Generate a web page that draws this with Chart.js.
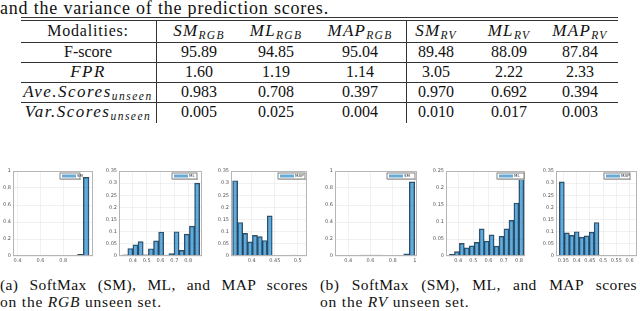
<!DOCTYPE html>
<html>
<head>
<meta charset="utf-8">
<title>Scores table and histograms</title>
<script src="https://cdn.jsdelivr.net/npm/chart.js"></script>
<style>
  body { margin: 0; width: 640px; height: 311px; overflow: hidden; background: #fff; position: relative;
         font-family: "Liberation Serif", "Times New Roman", serif; color: #111; }
  .intro { position: absolute; left: 0; top: -2px; font-size: 18px; letter-spacing: 0.8px; white-space: nowrap; }
  .cell { position: absolute; width: 180px; margin-left: -90px; text-align: center; font-size: 16px;
          line-height: 20px; white-space: nowrap; }
  .cell.head { letter-spacing: 0.8px; }
  .cell.head i { font-size: 17px; letter-spacing: 1.3px; }
  .cell.name i { font-size: 17px; letter-spacing: 1.5px; }
  .hl { position: absolute; height: 1px; background: #333; left: 21px; width: 597px; }
  .vl { position: absolute; width: 1px; background: #333; top: 20px; height: 103px; }
  sub { font-size: 11.5px; vertical-align: -3px; line-height: 0; }
  canvas { position: absolute; }
  .cap { position: absolute; font-size: 15.5px; line-height: 17px; letter-spacing: 0.8px; white-space: nowrap; }
  .cap.first { letter-spacing: 0.4px; text-align: justify; text-align-last: justify; white-space: normal; }
</style>
</head>
<body>
<div class="intro">and the variance of the prediction scores.</div>

<div class="cap first" style="left:0; top:276px; width:308px">(a) SoftMax (SM), ML, and MAP scores</div>
<div class="cap" style="left:0; top:293px">on the <i>RGB</i> unseen set.</div>
<div class="cap first" style="left:320px; top:276px; width:317px">(b) SoftMax (SM), ML, and MAP scores</div>
<div class="cap" style="left:320px; top:293px">on the <i>RV</i> unseen set.</div>

<script>
  // table
  const methods = ['SM', 'ML', 'MAP', 'SM', 'ML', 'MAP'];
  const modality = ['RGB', 'RGB', 'RGB', 'RV', 'RV', 'RV'];
  const rowNames = ['F-score', '<i>FPR</i>', '<i>Ave.Scores<sub>unseen</sub></i>', '<i>Var.Scores<sub>unseen</sub></i>'];
  const fScore = [95.89, 94.85, 95.04, 89.48, 88.09, 87.84];
  const fpr = [1.60, 1.19, 1.14, 3.05, 2.22, 2.33];
  const aveScores = [0.983, 0.708, 0.397, 0.970, 0.692, 0.394];
  const varScores = [0.005, 0.025, 0.004, 0.010, 0.017, 0.003];

  // histograms: bin centres and probabilities
  const smRgbBins = [0.40, 0.45, 0.50, 0.55, 0.60, 0.65, 0.70, 0.75, 0.80, 0.85, 0.90, 0.95, 1.00];
  const smRgbProb = [0.005, 0.002, 0, 0, 0, 0, 0, 0, 0.008, 0.004, 0.006, 0.02, 0.925];
  const mlRgbBins = [0.345, 0.382, 0.419, 0.456, 0.494, 0.531, 0.568, 0.605, 0.642, 0.679, 0.716, 0.753, 0.790, 0.828, 0.865];
  const mlRgbProb = [0.005, 0.031, 0.046, 0.059, 0.005, 0.030, 0.062, 0.099, 0.004, 0.010, 0.100, 0.023, 0.090, 0.123, 0.300];
  const mapRgbBins = [0.364, 0.375, 0.386, 0.396, 0.407, 0.418, 0.428, 0.439, 0.450, 0.461, 0.471, 0.482, 0.493];
  const mapRgbProb = [0.310, 0.138, 0.093, 0.058, 0.085, 0.080, 0.064, 0.165, 0, 0, 0.003, 0, 0.004];
  const smRvBins = [0.325, 0.375, 0.425, 0.475, 0.525, 0.575, 0.625, 0.675, 0.725, 0.775, 0.825, 0.875, 0.925, 0.975];
  const smRvProb = [0.002, 0.003, 0.003, 0.008, 0.010, 0.010, 0.010, 0.010, 0.005, 0.005, 0.004, 0.006, 0.025, 0.872];
  const mlRvBins = [0.359, 0.392, 0.424, 0.457, 0.490, 0.522, 0.555, 0.588, 0.620, 0.653, 0.685, 0.718, 0.751, 0.783, 0.816];
  const mlRvProb = [0.005, 0.013, 0.037, 0.024, 0.030, 0.040, 0.080, 0.044, 0.062, 0.029, 0.058, 0.080, 0.105, 0.156, 0.232];
  const mapRvBins = [0.344, 0.363, 0.382, 0.400, 0.419, 0.438, 0.457, 0.475, 0.494, 0.513, 0.532, 0.550, 0.569];
  const mapRvProb = [0.305, 0.095, 0.085, 0.100, 0.078, 0.083, 0.098, 0.138, 0, 0.002, 0.001, 0.003, 0.002];

  // tick labels
  const smRgbX = [0.4, 0.6, 0.8];
  const mlRgbX = [0.4, 0.5, 0.6, 0.7, 0.8];
  const mapRgbX = [0.4, 0.45, 0.5];
  const smRvX = [0.4, 0.6, 0.8, 1];
  const mlRvX = [0.4, 0.5, 0.6, 0.7, 0.8];
  const mapRvX = [0.35, 0.4, 0.45, 0.5, 0.55, 0.6];
  const unitY = [0, 0.2, 0.4, 0.6, 0.8, 1];
  const smallY = [0, 0.05, 0.1, 0.15, 0.2, 0.25, 0.3, 0.35];
  const mlRvY = [0, 0.05, 0.1, 0.15, 0.2, 0.25];

  function add(el) { document.body.appendChild(el); return el; }

  function cell(html, x, y, cls) {
    const d = add(document.createElement('div'));
    d.className = 'cell' + (cls ? ' ' + cls : '');
    d.style.left = x + 'px';
    d.style.top = (y - 10) + 'px';
    d.innerHTML = html;
  }

  const colX = [88, 199, 276, 360, 436, 509, 580];
  const rowY = [31, 52, 72, 92, 112];
  cell('Modalities:', colX[0], rowY[0], 'head');
  methods.forEach((m, i) => cell('<i>' + m + '<sub>' + modality[i] + '</sub></i>', colX[i + 1], rowY[0], 'head'));
  [fScore, fpr, aveScores, varScores].forEach((row, r) => {
    cell(rowNames[r], colX[0], rowY[r + 1], 'name');
    row.forEach((v, i) => cell(v.toFixed(r < 2 ? 2 : 3), colX[i + 1], rowY[r + 1]));
  });
  [17, 20, 42, 62, 82, 102].forEach(y => {
    const d = add(document.createElement('div'));
    d.className = 'hl';
    d.style.top = y + 'px';
  });
  [156, 406].forEach(x => {
    const d = add(document.createElement('div'));
    d.className = 'vl';
    d.style.left = x + 'px';
  });

  // matlab-like legend box and axes frame
  const barFill = 'rgba(0,114,189,0.6)';
  const boxLegend = {
    id: 'boxLegend',
    afterDraw(chart, args, opts) {
      const { ctx, chartArea: a } = chart;
      ctx.save();
      ctx.strokeStyle = '#b5b5b5';
      ctx.lineWidth = 1;
      ctx.strokeRect(a.left + 0.5, a.top + 0.5, a.right - a.left - 1, a.bottom - a.top - 1);
      const w = opts.width, h = 6;
      const x = a.right - opts.gap - w, y = a.top + 2;
      ctx.fillStyle = '#fff';
      ctx.fillRect(x, y, w, h);
      ctx.strokeStyle = '#666';
      ctx.lineWidth = 0.8;
      ctx.strokeRect(x, y, w, h);
      ctx.fillStyle = '#aaa';
      ctx.fillRect(x + 1, y + h, w, 1);
      ctx.fillStyle = barFill;
      ctx.fillRect(x + 2, y + 1.5, 14, 3);
      ctx.fillStyle = '#333';
      ctx.font = '4px "DejaVu Sans"';
      ctx.textBaseline = 'middle';
      ctx.fillText(opts.text, x + 17, y + h / 2);
      ctx.restore();
    }
  };

  const fmt = v => String(Math.round(v * 100) / 100);

  function axis(ticks, extra) {
    return Object.assign({
      offset: false,
      grid: { color: '#ebebeb', lineWidth: 0.7, drawTicks: false, offset: false },
      border: { display: false },
      ticks: { font: { size: 5, family: 'DejaVu Sans' }, color: '#555', padding: 2, maxRotation: 0, autoSkip: false, callback: fmt },
      afterBuildTicks: s => { s.ticks = ticks.map(value => ({ value })); }
    }, extra);
  }

  function hist(box, bins, prob, xr, xTicks, yTicks, label, lw, gap) {
    const [L, R, T, B] = box;
    const cv = add(document.createElement('canvas'));
    cv.width = R - L + 18;
    cv.height = B - T + 14;
    cv.style.left = (L - 16) + 'px';
    cv.style.top = (T - 4) + 'px';
    new Chart(cv, {
      type: 'bar',
      data: {
        datasets: [{
          data: bins.map((x, i) => ({ x, y: prob[i] })),
          backgroundColor: barFill,
          borderColor: 'rgba(25,40,55,0.85)',
          borderWidth: 0.8,
          barThickness: 'flex',
          barPercentage: 1,
          categoryPercentage: 1
        }]
      },
      options: {
        responsive: false,
        animation: false,
        layout: { padding: { top: 4, right: 2 } },
        plugins: { legend: { display: false }, tooltip: { enabled: false }, boxLegend: { text: label, width: lw, gap } },
        scales: {
          x: axis(xTicks, { type: 'linear', min: xr[0], max: xr[1], afterFit: s => { s.height = 10; } }),
          y: axis(yTicks, { min: 0, max: yTicks[yTicks.length - 1], afterFit: s => { s.width = 16; } })
        }
      },
      plugins: [boxLegend]
    });
  }

  hist([13, 93, 170, 256], smRgbBins, smRgbProb, [0.36, 1.06], smRgbX, unitY, 'SM', 20, 13);
  hist([119, 202, 170, 256], mlRgbBins, mlRgbProb, [0.3, 0.9], mlRgbX, smallY, 'ML', 25, 5);
  hist([231, 307, 170, 256], mapRgbBins, mapRgbProb, [0.355, 0.52], mapRgbX, smallY, 'MAP', 27, 2);
  hist([335, 417, 170, 256], smRvBins, smRvProb, [0.28, 1.02], smRvX, unitY, 'SM', 28, 2);
  hist([446, 525, 170, 256], mlRvBins, mlRvProb, [0.32, 0.84], mlRvX, mlRvY, 'ML', 27, 1);
  hist([556, 637, 170, 256], mapRvBins, mapRvProb, [0.322, 0.628], mapRvX, smallY, 'MAP', 26, 7);
</script>
</body>
</html>
